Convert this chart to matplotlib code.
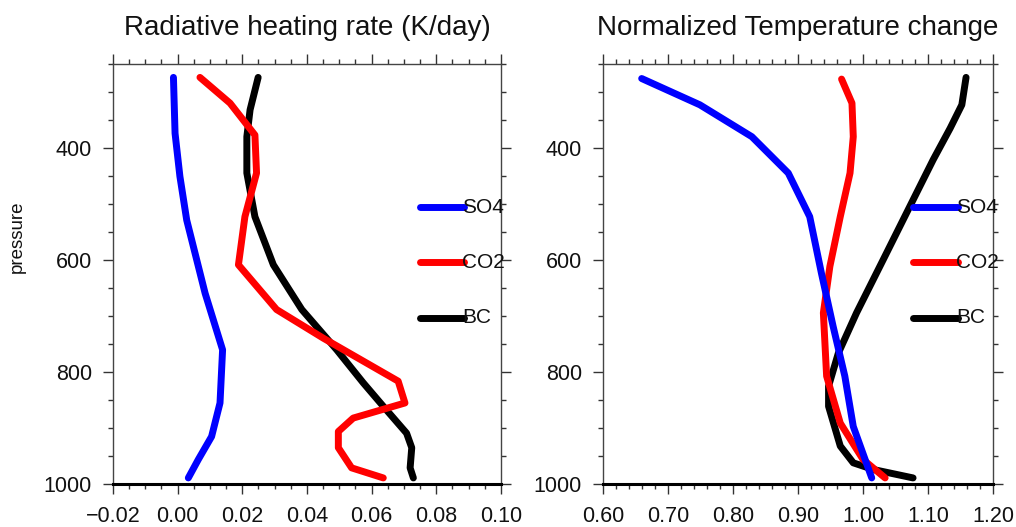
import matplotlib
matplotlib.use("Agg")
import matplotlib.pyplot as plt
from matplotlib.ticker import MultipleLocator, FuncFormatter

plt.rcParams['font.family'] = ['Liberation Sans', 'DejaVu Sans']

# ---------------- data ----------------
# Left panel: radiative heating rate (K/day)
so4_heat_p = [274, 374, 451, 529, 660, 761, 856, 916, 957, 990]
so4_heat = [-0.0013, -0.0008, 0.0007, 0.0028, 0.0085, 0.0139, 0.0131, 0.0105, 0.0064, 0.0033]

co2_heat_p = [274, 320, 377, 445, 523, 609, 689, 740, 817, 856, 883, 907, 936, 972, 990]
co2_heat = [0.0069, 0.0162, 0.0239, 0.0244, 0.0208, 0.0188, 0.0306, 0.0450, 0.0682, 0.0703,
            0.0543, 0.0497, 0.0497, 0.0538, 0.0636]

bc_heat_p = [274, 332, 380, 445, 523, 609, 689, 761, 820, 862, 910, 936, 972, 990]
bc_heat = [0.0249, 0.0224, 0.0214, 0.0214, 0.0239, 0.0296, 0.0384, 0.0492, 0.0574, 0.0636,
           0.0708, 0.0724, 0.0719, 0.0729]

# Right panel: normalized temperature change
so4_temp_p = [276, 323, 380, 445, 523, 624, 719, 808, 898, 990]
so4_temp = [0.6595, 0.749, 0.829, 0.885, 0.918, 0.936, 0.954, 0.972, 0.985, 1.0134]

co2_temp_p = [277, 320, 380, 445, 523, 612, 695, 808, 892, 957, 990]
co2_temp = [0.967, 0.983, 0.985, 0.980, 0.965, 0.949, 0.939, 0.944, 0.965, 1.000, 1.034]

bc_temp_p = [274, 323, 365, 421, 493, 600, 695, 767, 826, 862, 933, 963, 975, 990]
bc_temp = [1.1585, 1.152, 1.134, 1.108, 1.077, 1.031, 0.990, 0.962, 0.947, 0.947, 0.965,
           0.985, 1.016, 1.077]

series_names = ["SO4", "CO2", "BC"]
series_colors = ["#0000ff", "#ff0000", "#000000"]

titles = ["Radiative heating rate (K/day)", "Normalized Temperature change"]
left_xticks = [-0.02, 0.00, 0.02, 0.04, 0.06, 0.08, 0.10]
right_xticks = [0.60, 0.70, 0.80, 0.90, 1.00, 1.10, 1.20]
yticks = [400, 600, 800, 1000]

# ---------------- figure ----------------
fig = plt.figure(figsize=(10.16, 5.27), dpi=100)
ax1 = fig.add_axes([0.1112, 0.0825, 0.3819, 0.7961])
ax2 = fig.add_axes([0.5935, 0.0825, 0.3839, 0.7961])

panels = [
    (ax1, [(bc_heat, bc_heat_p), (co2_heat, co2_heat_p), (so4_heat, so4_heat_p)], left_xticks, 0.005),
    (ax2, [(bc_temp, bc_temp_p), (co2_temp, co2_temp_p), (so4_temp, so4_temp_p)], right_xticks, 0.02),
]
draw_colors = ["#000000", "#ff0000", "#0000ff"]

fmt = FuncFormatter(lambda v, pos: ("%.2f" % v).replace("-", "\u2212"))

tick_col = "#333333"
for i, (ax, data, xt, minor) in enumerate(panels):
    for (x, p), c in zip(data, draw_colors):
        ax.plot(x, p, color=c, lw=5.0, solid_capstyle='round', solid_joinstyle='round', zorder=3)
    ax.set_xlim(xt[0], xt[-1])
    ax.set_ylim(1000, 250)
    ax.set_xticks(xt)
    ax.xaxis.set_major_formatter(fmt)
    ax.xaxis.set_minor_locator(MultipleLocator(minor))
    ax.set_yticks(yticks)
    ax.yaxis.set_minor_locator(MultipleLocator(50))
    ax.tick_params(which='major', direction='out', length=7.2, width=1.0, color=tick_col,
                   labelsize=15.5, labelcolor='#111111', top=True, right=True,
                   labeltop=False, labelright=False)
    ax.tick_params(which='minor', direction='out', length=3.8, width=1.0, color=tick_col,
                   top=True, right=True)
    ax.tick_params(axis='x', which='major', pad=9)
    ax.tick_params(axis='y', which='major', pad=8)
    for s in ['left', 'right', 'top']:
        ax.spines[s].set_color('#444444')
        ax.spines[s].set_linewidth(1.0)
    ax.spines['bottom'].set_color('#000000')
    ax.spines['bottom'].set_linewidth(2.2)
    ax.set_title(titles[i], fontsize=20, pad=21, color='#111111')

    # legend (NCL style)
    lx0 = 0.792 if i == 0 else 0.795
    lx1 = 0.905 if i == 0 else 0.910
    for name, col, ly in zip(series_names, series_colors, [0.659, 0.528, 0.395]):
        ax.plot([lx0, lx1], [ly, ly], transform=ax.transAxes, color=col, lw=5.0,
                solid_capstyle='round', zorder=4, clip_on=False)
        ax.text(lx1 - 0.005, ly, name, transform=ax.transAxes, fontsize=15,
                va='center', ha='left', color='#111111', zorder=5)

ax1.set_ylabel("pressure", fontsize=13.5, color='#111111')
ax1.yaxis.set_label_coords(-0.225, 0.588)

fig.savefig("out.png", dpi=100)
